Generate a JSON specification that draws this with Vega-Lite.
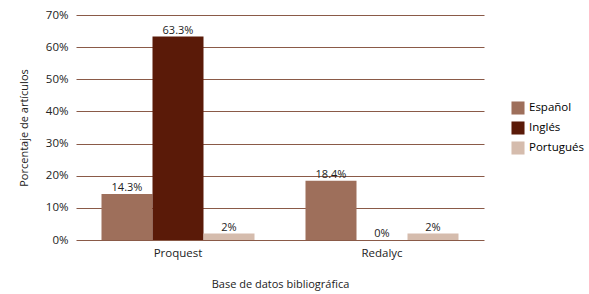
{
  "$schema": "https://vega.github.io/schema/vega-lite/v6.json",
  "width": 408,
  "height": 225,
  "autosize": {"type": "none"},
  "padding": {"left": 76, "top": 15, "right": 105, "bottom": 54},
  "background": "white",
  "config": {
    "view": {"stroke": null},
    "font": "Open Sans",
    "axis": {"labelFont": "Open Sans", "titleFont": "Open Sans", "labelColor": "#222", "titleColor": "#222", "titleFontWeight": "normal"},
    "legend": {"labelFont": "Open Sans"}
  },
  "data": {
    "values": [
      {"base": "Proquest", "idioma": "Español", "valor": 0.143},
      {"base": "Proquest", "idioma": "Inglés", "valor": 0.633},
      {"base": "Proquest", "idioma": "Portugués", "valor": 0.02},
      {"base": "Redalyc", "idioma": "Español", "valor": 0.184},
      {"base": "Redalyc", "idioma": "Inglés", "valor": 0.0},
      {"base": "Redalyc", "idioma": "Portugués", "valor": 0.02}
    ]
  },
  "encoding": {
    "x": {
      "field": "base", "type": "nominal",
      "scale": {"paddingInner": 0.25, "paddingOuter": 0.125},
      "axis": {"title": "Base de datos bibliográfica", "labelAngle": 0, "labelFontSize": 11.5, "titleFontSize": 11, "ticks": false, "domain": false, "labelPadding": 7, "titlePadding": 20}
    },
    "xOffset": {"field": "idioma", "type": "nominal", "scale": {"paddingInner": 0, "paddingOuter": 0}},
    "y": {
      "field": "valor", "type": "quantitative",
      "scale": {"domain": [0, 0.7], "nice": false},
      "axis": {"title": "Porcentaje de artículos", "format": ".0%", "values": [0, 0.1, 0.2, 0.3, 0.4, 0.5, 0.6, 0.7], "labelOverlap": false, "grid": true, "gridColor": "#8a5a48", "gridWidth": 1, "gridOpacity": 1, "domain": false, "ticks": false, "labelPadding": 8, "labelFontSize": 11.5, "titleFontSize": 11, "titlePadding": 16}
    }
  },
  "layer": [
    {
      "mark": {"type": "bar"},
      "encoding": {
        "color": {
          "field": "idioma", "type": "nominal",
          "scale": {"domain": ["Español", "Inglés", "Portugués"], "range": ["#9e6f5b", "#5a1a08", "#d5bcad"]},
          "legend": {"title": null, "orient": "none", "legendX": 435, "legendY": 86, "symbolType": "square", "symbolSize": 170, "symbolStrokeWidth": 0, "labelFontSize": 11.5, "rowPadding": 6, "symbolOpacity": 1}
        }
      }
    },
    {
      "mark": {"type": "text", "dy": -6, "fontSize": 11, "color": "#222"},
      "encoding": {"text": {"field": "valor", "type": "quantitative", "format": ".1~%"}}
    }
  ]
}
